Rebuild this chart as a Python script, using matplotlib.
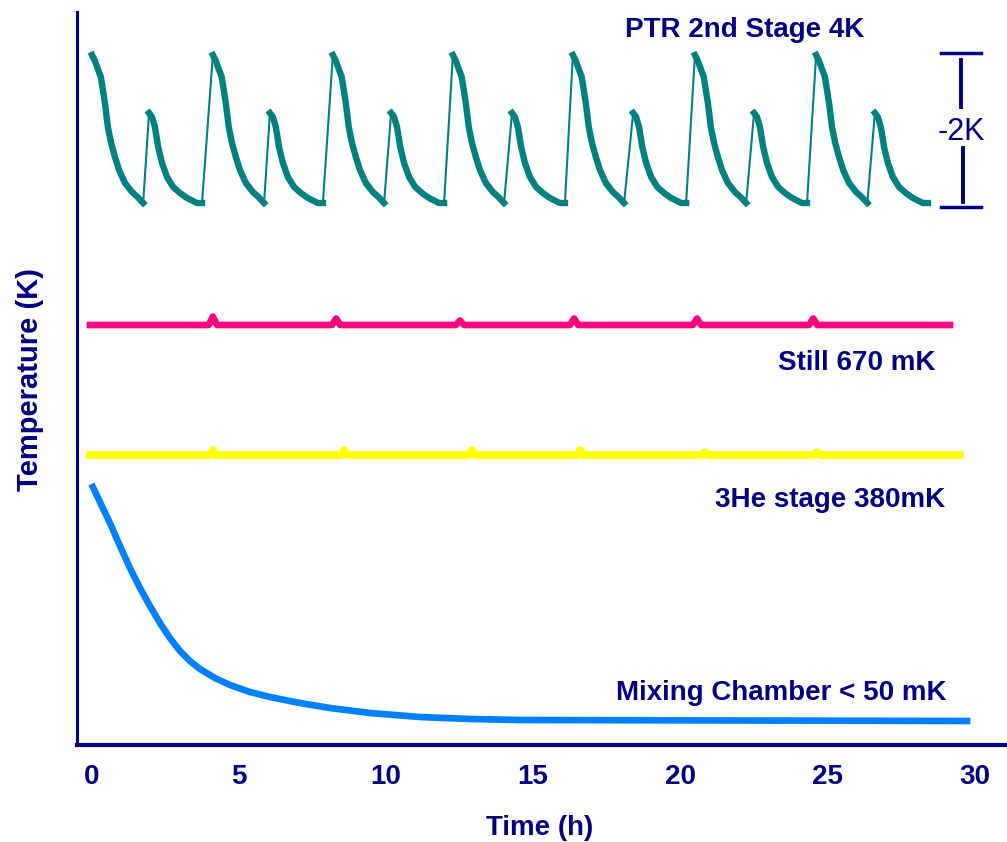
import matplotlib.pyplot as plt

plt.rcParams['font.family'] = ['Liberation Sans', 'DejaVu Sans']

navy = '#000080'
teal = '#008080'
pink = '#ff0080'
yellow = '#ffff00'
blue = '#0080ff'

# time in hours, temperature in arbitrary (schematic) units
# PTR 2nd stage: two kinds of spikes, each followed by a decay
big_peak_t = [0.0, 4.11, 8.19, 12.27, 16.35, 20.50, 24.62]
small_peak_t = [1.94, 6.05, 10.17, 14.28, 18.40, 22.51, 26.62]
big_dt = [0, 0.10, 0.30, 0.44, 0.54, 0.65, 0.78, 0.92, 1.12, 1.36, 1.55, 1.74]
big_T = [690, 684, 668, 642, 618, 602, 588, 575, 562, 553, 548, 542]
small_dt = [0, 0.10, 0.20, 0.31, 0.44, 0.61, 0.82, 1.05, 1.29, 1.63, 1.80]
small_T = [632, 628, 618, 598, 582, 568, 558, 552, 547, 542, 542]

# still: flat line with small bumps
still_t = [-0.07, 29.17]
still_T = 420
still_bump_t = [4.11, 8.30, 12.51, 16.39, 20.57, 24.52]
still_bump_h = [8.5, 6.5, 4.5, 6.5, 6.5, 6.5]

# 3He stage
he3_t = [-0.07, 29.51]
he3_T = 290
he3_bump_t = [4.11, 8.57, 12.92, 16.59, 20.84, 24.65]
he3_bump_h = [5, 5, 5, 5, 3, 3]

# mixing chamber cool down
mc_t = [0.03, 0.27, 0.61, 0.95, 1.29, 1.63, 1.97, 2.31, 2.65, 2.99, 3.33, 3.67,
        4.18, 4.69, 5.37, 6.05, 7.07, 8.09, 9.45, 11.15, 12.85, 14.55, 29.75]
mc_T = [258, 243, 222, 199, 177, 157, 139, 122, 107, 94, 84, 76,
        67, 60, 53, 48, 42, 37, 32, 28, 26, 25, 24]

xticks = [0, 5, 10, 15, 20, 25, 30]

W, H = 1007, 842
fig = plt.figure(figsize=(W / 100, H / 100), dpi=100)
ax = fig.add_axes([76.5 / W, 1 - 745 / H, (W - 76.5) / W, (745 - 12) / H])


def px(x, y):
    return x / W, 1 - y / H


# PTR trace: thin rises, thick decays
ptr_t, ptr_T, decays = [], [], []
for tb, ts in zip(big_peak_t, small_peak_t):
    for t0, dts, Ts in ((tb, big_dt, big_T), (ts, small_dt, small_T)):
        seg = [t0 + d for d in dts]
        decays.append((seg, Ts))
        ptr_t += seg
        ptr_T += Ts
ax.plot(ptr_t, ptr_T, color=teal, lw=1.5)
for seg, Ts in decays:
    ax.plot(seg, Ts, color=teal, lw=4.6)


def bumpy(t_range, base, bt, bh, w):
    t, T = [t_range[0]], [base]
    for b, h in zip(bt, bh):
        t += [b - w, b, b + w]
        T += [base, base + h, base]
    t.append(t_range[1])
    T.append(base)
    return t, T


t, T = bumpy(still_t, still_T, still_bump_t, still_bump_h, 0.14)
ax.plot(t, T, color=pink, lw=4.8)
t, T = bumpy(he3_t, he3_T, he3_bump_t, he3_bump_h, 0.09)
ax.plot(t, T, color=yellow, lw=5.5)
ax.plot(mc_t, mc_T, color=blue, lw=4.8)

# ~2K scale bar
top, bot = max(big_T) + 2, min(big_T) - 4
ax.plot([28.87, 30.23], [top, top], color=navy, lw=2.5, clip_on=False)
ax.plot([28.87, 30.23], [bot, bot], color=navy, lw=2.5, clip_on=False)
ax.plot([29.55, 29.55], [top - 7, top - 54], color=navy, lw=2.8)
ax.plot([29.6, 29.6], [bot + 5, bot + 59], color=navy, lw=2.8)

ax.set_xlim(-0.527, 31.11)
ax.set_ylim(0, 733)
ax.set_xticks(xticks)
ax.set_xticklabels([str(v) for v in xticks], color=navy, fontsize=20, fontweight='bold')
ax.tick_params(axis='x', length=0, pad=14)
ax.set_yticks([])
for s in ['top', 'right']:
    ax.spines[s].set_visible(False)
ax.spines['left'].set_color(navy)
ax.spines['left'].set_linewidth(2.2)
ax.spines['bottom'].set_color(navy)
ax.spines['bottom'].set_linewidth(3)

tk = dict(color=navy, fontsize=20, fontweight='bold', ha='center', va='baseline')
fig.text(*px(745, 37), 'PTR 2nd Stage 4K', **tk)
fig.text(*px(857, 370), 'Still 670 mK', **tk)
fig.text(*px(830, 507), '3He stage 380mK', **tk)
fig.text(*px(781, 700), 'Mixing Chamber < 50 mK', **tk)
fig.text(*px(540, 835), 'Time (h)', **tk)
fig.text(*px(961, 140), '-2K', color=navy, fontsize=22, ha='center', va='baseline')
fig.text(*px(30, 379), 'Temperature (K)', color=navy, fontsize=21, fontweight='bold',
         rotation=90, ha='center', va='center')

fig.savefig('out.png', dpi=100)
